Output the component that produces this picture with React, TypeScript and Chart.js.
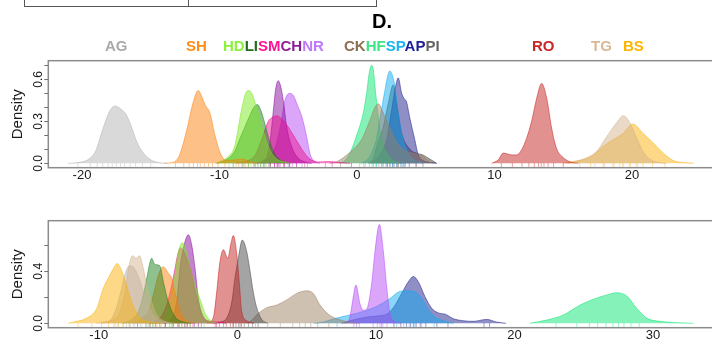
import React, { useEffect, useRef } from "react";
import { Chart, registerables } from "chart.js";
Chart.register(...registerables);

type Pt = [number, number];

// ---------------- Top panel: density curves [x, density] ----------------
const topAG: Pt[] = [[-21,0],[-20.3,0.005],[-19.5,0.03],[-19,0.09],[-18.5,0.24],[-18,0.37],[-17.6,0.41],[-17.2,0.39],[-16.8,0.35],[-16.4,0.26],[-16,0.15],[-15.5,0.07],[-15,0.025],[-14.4,0.005],[-13.8,0]];
const topSH: Pt[] = [[-14,0],[-13.3,0.01],[-12.9,0.06],[-12.4,0.23],[-11.9,0.44],[-11.55,0.52],[-11.3,0.48],[-11.05,0.42],[-10.7,0.36],[-10.3,0.19],[-9.95,0.075],[-9.5,0.02],[-8.8,0.025],[-8.3,0.03],[-7.8,0.01],[-7.2,0]];
const topHD: Pt[] = [[-10.3,0],[-9.8,0.02],[-9.35,0.05],[-8.9,0.12],[-8.4,0.38],[-8.1,0.5],[-7.85,0.52],[-7.6,0.49],[-7.4,0.43],[-6.9,0.26],[-6.45,0.12],[-5.95,0.04],[-5.3,0.01],[-4.8,0]];
const topLI: Pt[] = [[-10.2,0],[-9.6,0.02],[-8.9,0.085],[-8.5,0.18],[-8.15,0.26],[-7.8,0.34],[-7.5,0.4],[-7.25,0.42],[-7.0,0.38],[-6.8,0.32],[-6.45,0.19],[-6.0,0.07],[-5.5,0.02],[-5,0]];
const topSM: Pt[] = [[-8.8,0],[-8.3,0.01],[-7.9,0.02],[-7.4,0.06],[-6.93,0.17],[-6.45,0.3],[-6.1,0.33],[-5.84,0.34],[-5.5,0.32],[-5.11,0.275],[-4.5,0.18],[-3.9,0.085],[-3.42,0.03],[-2.8,0.01],[-2,0.012],[-1.2,0.005],[-0.5,0]];
const topCH: Pt[] = [[-7.3,0],[-6.8,0.02],[-6.55,0.05],[-6.33,0.15],[-6.08,0.38],[-5.9,0.54],[-5.72,0.59],[-5.55,0.55],[-5.36,0.45],[-5.11,0.26],[-4.75,0.12],[-4.3,0.04],[-3.8,0.01],[-3.3,0]];
const topNR: Pt[] = [[-7,0],[-6.5,0.03],[-6.0,0.1],[-5.7,0.2],[-5.48,0.31],[-5.24,0.45],[-4.87,0.5],[-4.6,0.48],[-4.39,0.43],[-4.0,0.33],[-3.66,0.19],[-3.42,0.07],[-3.1,0.015],[-2.7,0]];
const topCK: Pt[] = [[-2,0],[-1.5,0.01],[-1.0,0.04],[-0.27,0.1],[0.34,0.17],[0.95,0.31],[1.3,0.4],[1.55,0.425],[1.91,0.36],[2.4,0.25],[2.9,0.15],[3.5,0.09],[4.2,0.07],[4.8,0.05],[5.3,0.01],[5.6,0]];
const topHF: Pt[] = [[-1.3,0],[-0.87,0.02],[-0.5,0.075],[-0.02,0.2],[0.46,0.36],[0.7,0.5],[0.9,0.65],[1.07,0.7],[1.2,0.66],[1.31,0.55],[1.55,0.33],[1.8,0.17],[2.16,0.075],[2.64,0.02],[3.2,0]];
const topSP: Pt[] = [[0.3,0],[0.8,0.03],[1.07,0.075],[1.43,0.18],[1.67,0.32],[2.04,0.525],[2.25,0.63],[2.4,0.66],[2.6,0.62],[2.76,0.55],[3.0,0.36],[3.25,0.215],[3.6,0.1],[4.1,0.03],[4.8,0]];
const topAP: Pt[] = [[1.0,0],[1.67,0.06],[2.16,0.17],[2.52,0.38],[2.76,0.525],[3.0,0.61],[3.25,0.5],[3.45,0.46],[3.6,0.44],[3.85,0.32],[4.2,0.17],[4.46,0.06],[4.8,0.02],[5.4,0.005],[5.8,0]];
const topPI: Pt[] = [[0.8,0],[1.2,0.04],[1.43,0.12],[1.91,0.26],[2.28,0.43],[2.64,0.56],[2.88,0.43],[3.25,0.215],[3.85,0.1],[4.4,0.07],[4.8,0.06],[5.3,0.03],[5.8,0]];
const topRO: Pt[] = [[9.8,0],[10.28,0.025],[10.64,0.073],[10.9,0.068],[11.25,0.06],[11.6,0.06],[11.98,0.097],[12.34,0.18],[12.7,0.3],[13.07,0.465],[13.43,0.57],[13.8,0.465],[14.16,0.25],[14.5,0.11],[14.9,0.05],[15.5,0.01],[16.1,0]];
const topTG: Pt[] = [[15.3,0],[15.73,0.01],[16.7,0.04],[17.43,0.085],[18.16,0.19],[18.88,0.29],[19.37,0.34],[19.85,0.29],[20.34,0.18],[20.8,0.085],[21.3,0.03],[22,0.005],[22.5,0]];
const topBS: Pt[] = [[15,0],[15.5,0.01],[16.45,0.025],[17.2,0.06],[17.9,0.12],[18.64,0.17],[19.37,0.215],[20.05,0.28],[20.8,0.215],[21.55,0.145],[22.28,0.073],[23.0,0.02],[23.8,0.005],[24.5,0]];

// ---------------- Top panel: rug marks ----------------
const topRugAG = [-20.3,-19.4,-18.9,-18.5,-18.1,-17.8,-17.5,-17.2,-16.9,-16.5,-16.1,-15.6,-15.0];
const topRugSH = [-13.2,-12.6,-12.2,-11.9,-11.6,-11.4,-11.1,-10.8,-10.5,-10.1,-9.6,-8.6,-8.2];
const topRugHD = [-9.3,-8.8,-8.4,-8.1,-7.9,-7.7,-7.4,-7.0,-6.6];
const topRugLI = [-9.0,-8.3,-7.9,-7.5,-7.2,-7.0,-6.7,-6.3];
const topRugSM = [-7.4,-6.8,-6.3,-6.0,-5.7,-5.3,-4.9,-4.4,-3.8,-2.3,-1.8];
const topRugCH = [-6.4,-6.0,-5.8,-5.6,-5.3,-4.9];
const topRugNR = [-5.8,-5.3,-5.0,-4.7,-4.4,-4.0,-3.6];
const topRugCK = [-1.2,-0.4,0.5,1.2,1.6,2.2,3.0,4.3];
const topRugHF = [-0.4,0.2,0.6,0.9,1.1,1.4,1.8];
const topRugSP = [1.4,1.8,2.1,2.4,2.6,2.9,3.3];
const topRugAP = [2.2,2.6,2.9,3.2,3.5,3.8,4.3];
const topRugPI = [1.9,2.4,2.7,3.0,3.4,4.8];
const topRugRO = [10.5,11.3,12.0,12.5,12.9,13.2,13.4,13.6,13.9,14.3,15.0];
const topRugTG = [16.2,17.3,18.0,18.6,19.1,19.4,19.8,20.4];
const topRugBS = [17.0,17.9,18.7,19.3,19.9,20.3,20.8,21.5,22.4];

// ---------------- Bottom panel: density curves ----------------
const botBS: Pt[] = [[-12.2,0],[-11.8,0.01],[-10.87,0.04],[-10.14,0.115],[-9.67,0.27],[-9.3,0.35],[-9.0,0.41],[-8.66,0.46],[-8.45,0.43],[-8.22,0.37],[-7.86,0.24],[-7.5,0.13],[-7.0,0.04],[-6.3,0.01],[-5.5,0]];
const botTG: Pt[] = [[-10.2,0],[-9.67,0.01],[-8.95,0.03],[-8.46,0.09],[-8.1,0.24],[-7.86,0.42],[-7.55,0.52],[-7.3,0.5],[-7.07,0.52],[-6.78,0.42],[-6.54,0.295],[-6.18,0.165],[-5.82,0.065],[-5.34,0.02],[-4.5,0]];
const botAG: Pt[] = [[-9.8,0],[-9.2,0.02],[-8.82,0.09],[-8.46,0.22],[-8.1,0.38],[-7.8,0.44],[-7.62,0.44],[-7.3,0.4],[-7.0,0.32],[-6.54,0.165],[-6.06,0.065],[-5.58,0.02],[-4.8,0]];
const botLI: Pt[] = [[-8.3,0],[-7.62,0.03],[-7.14,0.09],[-6.78,0.22],[-6.49,0.37],[-6.3,0.47],[-6.18,0.5],[-6.0,0.46],[-5.82,0.45],[-5.58,0.44],[-5.34,0.32],[-4.98,0.165],[-4.5,0.05],[-3.9,0.01],[-3.3,0]];
const botSH: Pt[] = [[-7.6,0],[-7.0,0.03],[-6.42,0.09],[-6.06,0.22],[-5.7,0.37],[-5.5,0.42],[-5.34,0.435],[-4.98,0.385],[-4.73,0.346],[-4.5,0.24],[-4.13,0.09],[-3.65,0.02],[-3.1,0]];
const botHD: Pt[] = [[-6,0],[-5.4,0.03],[-5.0,0.1],[-4.6,0.3],[-4.25,0.55],[-3.95,0.62],[-3.7,0.56],[-3.4,0.42],[-3.0,0.28],[-2.6,0.16],[-2.3,0.07],[-1.9,0.02],[-1.4,0]];
const botSM: Pt[] = [[-6.4,0],[-6.0,0.01],[-5.58,0.04],[-5.1,0.14],[-4.73,0.295],[-4.5,0.42],[-4.3,0.53],[-4.1,0.58],[-3.9,0.56],[-3.65,0.5],[-3.29,0.38],[-2.93,0.2],[-2.57,0.07],[-2.1,0.02],[-1.3,0.01],[-0.8,0]];
const botCH: Pt[] = [[-5.4,0],[-4.8,0.03],[-4.4,0.15],[-4.1,0.45],[-3.77,0.63],[-3.53,0.68],[-3.29,0.6],[-3.05,0.42],[-2.81,0.19],[-2.45,0.05],[-2.0,0.01],[-1.6,0]];
const botRO: Pt[] = [[-2.2,0],[-1.85,0.02],[-1.68,0.07],[-1.49,0.24],[-1.25,0.475],[-1.0,0.565],[-0.69,0.5],[-0.45,0.62],[-0.29,0.675],[-0.04,0.53],[0.15,0.3],[0.32,0.09],[0.68,0.02],[1.2,0]];
const botPI: Pt[] = [[-1.6,0],[-1.25,0.01],[-0.77,0.04],[-0.4,0.165],[-0.17,0.35],[0.07,0.5],[0.36,0.64],[0.68,0.55],[0.92,0.4],[1.15,0.24],[1.4,0.12],[1.76,0.03],[2.2,0]];
const botCK: Pt[] = [[0.6,0],[1.0,0.02],[1.4,0.065],[2.12,0.12],[2.84,0.14],[3.56,0.18],[4.29,0.23],[5.0,0.25],[5.48,0.23],[5.97,0.14],[6.57,0.07],[7.17,0.035],[7.65,0.02],[8.3,0.005],[8.8,0]];
const botNR: Pt[] = [[7.7,0],[8.0,0.02],[8.13,0.05],[8.33,0.18],[8.56,0.295],[8.85,0.15],[9.1,0.1],[9.34,0.11],[9.7,0.31],[9.94,0.56],[10.25,0.76],[10.53,0.56],[10.78,0.28],[11.02,0.07],[11.4,0.01],[11.8,0]];
const botSP: Pt[] = [[5.5,0],[6.2,0.01],[7.17,0.04],[8.6,0.077],[10.05,0.13],[11.0,0.19],[11.74,0.245],[12.46,0.25],[13.06,0.225],[13.67,0.13],[14.1,0.064],[14.86,0.02],[15.6,0]];
const botAP: Pt[] = [[7.5,0],[8.5,0.03],[9.5,0.05],[10.4,0.06],[10.78,0.07],[11.26,0.12],[11.86,0.23],[12.34,0.32],[12.7,0.36],[13.06,0.32],[13.54,0.205],[14.03,0.115],[14.5,0.08],[15.0,0.07],[15.6,0.035],[16.3,0.02],[17.0,0.015],[18.0,0.03],[18.7,0.01],[19.4,0]];
const botHF: Pt[] = [[21.1,0],[22.32,0.025],[23.52,0.064],[24.73,0.14],[25.69,0.185],[26.65,0.218],[27.37,0.235],[28.1,0.21],[28.82,0.115],[29.54,0.04],[30.5,0.015],[31.7,0.005],[32.9,0]];

// ---------------- Bottom panel: rug marks ----------------
const botRugBS = [-11.5,-10.5,-9.8,-9.3,-8.9,-8.6,-8.3,-7.8,-7.2];
const botRugTG = [-8.8,-8.2,-7.8,-7.5,-7.2,-6.9,-6.5,-6.0];
const botRugAG = [-8.6,-8.0,-7.7,-7.4,-7.0,-6.4];
const botRugLI = [-7.2,-6.6,-6.3,-6.1,-5.9,-5.6,-5.2,-4.7];
const botRugSH = [-6.3,-5.8,-5.5,-5.2,-4.9,-4.6,-4.2];
const botRugHD = [-4.8,-4.3,-4.0,-3.8,-3.4,-2.9,-2.4];
const botRugSM = [-5.2,-4.6,-4.3,-4.0,-3.7,-3.2,-2.6,-1.5];
const botRugCH = [-4.2,-3.8,-3.6,-3.4,-3.1,-2.8];
const botRugRO = [-1.6,-1.3,-1.0,-0.8,-0.5,-0.3,-0.1,0.2];
const botRugPI = [-0.3,0.1,0.3,0.5,0.8,1.1,1.5];
const botRugCK = [1.3,2.2,3.1,4.0,4.5,4.9,5.3,5.8,6.6];
const botRugNR = [8.4,8.6,9.8,10.1,10.3,10.5,10.8];
const botRugSP = [7.2,8.8,10.4,11.5,12.0,12.4,12.8,13.3,14.2];
const botRugAP = [11.3,11.8,12.2,12.5,12.7,12.9,13.2,13.6,14.4,15.2,17.8,18.2];
const botRugHF = [23.0,24.5,25.4,26.0,26.6,27.1,27.5,27.9,28.4,29.0];

// ---------------- Axes / text ----------------
const topXTicks = [-20, -10, 0, 10, 20];
const topYTicks = [0, 0.1, 0.2, 0.3, 0.4, 0.5, 0.6, 0.7];
const topYLabels = [0, 0.3, 0.6];
const botXTicks = [-10, 0, 10, 20, 30];
const botYTicks = [0, 0.2, 0.4, 0.6];
const botYLabels = [0, 0.4];
const yTitle = "Density";
const panelTitle = "D.";
const labelGroups = [["AG"], ["SH"], ["HD", "LI", "SM", "CH", "NR"], ["CK", "HF", "SP", "AP", "PI"], ["RO"], ["TG"], ["BS"]];

const topCurves: Record<string, Pt[]> = { AG: topAG, SH: topSH, HD: topHD, LI: topLI, SM: topSM, CH: topCH, NR: topNR, CK: topCK, HF: topHF, SP: topSP, AP: topAP, PI: topPI, RO: topRO, TG: topTG, BS: topBS };
const topRugs: Record<string, number[]> = { AG: topRugAG, SH: topRugSH, HD: topRugHD, LI: topRugLI, SM: topRugSM, CH: topRugCH, NR: topRugNR, CK: topRugCK, HF: topRugHF, SP: topRugSP, AP: topRugAP, PI: topRugPI, RO: topRugRO, TG: topRugTG, BS: topRugBS };
const botCurves: Record<string, Pt[]> = { BS: botBS, TG: botTG, AG: botAG, LI: botLI, SH: botSH, HD: botHD, SM: botSM, CH: botCH, RO: botRO, PI: botPI, CK: botCK, NR: botNR, SP: botSP, AP: botAP, HF: botHF };
const botRugs: Record<string, number[]> = { BS: botRugBS, TG: botRugTG, AG: botRugAG, LI: botRugLI, SH: botRugSH, HD: botRugHD, SM: botRugSM, CH: botRugCH, RO: botRugRO, PI: botRugPI, CK: botRugCK, NR: botRugNR, SP: botRugSP, AP: botRugAP, HF: botRugHF };

// ---------------- Styles ----------------
const fillRGB: Record<string, string> = {
  AG: "175,175,175", SH: "250,125,5", HD: "120,232,20", LI: "20,125,20", SM: "235,10,140",
  CH: "130,0,150", NR: "180,70,245", CK: "155,125,95", HF: "0,228,110", SP: "10,170,240",
  AP: "20,20,135", PI: "65,65,65", RO: "195,25,25", TG: "210,175,135", BS: "250,175,5",
};
const labelColor: Record<string, string> = {
  AG: "#aaaaaa", SH: "#ff8c14", HD: "#8cf03c", LI: "#1e6e1e", SM: "#ff1493", CH: "#8c1e96",
  NR: "#be78fa", CK: "#8c6e50", HF: "#3ce682", SP: "#1eb4f0", AP: "#1e1e96", PI: "#646464",
  RO: "#c82828", TG: "#d7b996", BS: "#ffb400",
};
const labelLefts = [105, 186, 223, 344, 532, 591, 623];
const FONT = '"Liberation Sans", Arial, sans-serif';

function buildDatasets(curves: Record<string, Pt[]>, rugs: Record<string, number[]>, rugY: number) {
  const ds: any[] = [];
  Object.keys(curves).forEach((k) => {
    ds.push({
      type: "line",
      data: curves[k].map(([x, y]) => ({ x, y })),
      fill: "origin",
      backgroundColor: `rgba(${fillRGB[k]},0.48)`,
      borderColor: `rgba(${fillRGB[k]},0.5)`,
      borderWidth: 1,
      pointRadius: 0,
      tension: 0.4,
      cubicInterpolationMode: "monotone",
      order: 1,
    });
  });
  Object.keys(rugs).forEach((k) => {
    ds.push({
      type: "scatter",
      data: rugs[k].map((x) => ({ x, y: rugY })),
      showLine: false,
      pointStyle: "line",
      pointRotation: 90,
      pointRadius: 2,
      pointBorderWidth: 1,
      pointBorderColor: `rgba(${fillRGB[k]},0.4)`,
      pointBackgroundColor: `rgba(${fillRGB[k]},0.4)`,
      order: 0,
    });
  });
  return ds;
}

function axesPlugin(xTicks: number[], yTicks: number[], yLabels: number[]) {
  return {
    id: "rAxes",
    afterDraw(chart: any) {
      const { ctx, chartArea: a, scales } = chart;
      const x = scales.x, y = scales.y;
      ctx.save();
      ctx.strokeStyle = "#8c8c8c";
      ctx.lineWidth = 1.5;
      ctx.strokeRect(a.left, a.top, a.right - a.left, a.bottom - a.top);
      ctx.strokeStyle = "#707070";
      ctx.lineWidth = 1;
      yTicks.forEach((v) => {
        const py = Math.round(y.getPixelForValue(v)) + 0.5;
        ctx.beginPath();
        ctx.moveTo(a.left - 4, py);
        ctx.lineTo(a.left, py);
        ctx.stroke();
      });
      ctx.fillStyle = "#1a1a1a";
      ctx.textAlign = "center";
      ctx.textBaseline = "middle";
      ctx.font = `12px ${FONT}`;
      yLabels.forEach((v) => {
        ctx.save();
        ctx.translate(a.left - 10, y.getPixelForValue(v));
        ctx.rotate(-Math.PI / 2);
        ctx.fillText(v.toFixed(1), 0, 0);
        ctx.restore();
      });
      ctx.font = `15px ${FONT}`;
      ctx.save();
      ctx.translate(17.5, (a.top + a.bottom) / 2);
      ctx.rotate(-Math.PI / 2);
      ctx.fillText(yTitle, 0, 0);
      ctx.restore();
      ctx.font = `13px ${FONT}`;
      xTicks.forEach((v) => {
        ctx.fillText(String(v), x.getPixelForValue(v), a.bottom + 8);
      });
      ctx.restore();
    },
  };
}

function makeChart(canvas: HTMLCanvasElement, curves: Record<string, Pt[]>, rugs: Record<string, number[]>,
  xr: [number, number], yr: [number, number], pad: any, xTicks: number[], yTicks: number[], yLabels: number[], rugY: number) {
  return new Chart(canvas, {
    type: "line",
    data: { datasets: buildDatasets(curves, rugs, rugY) },
    options: {
      animation: false,
      responsive: false,
      maintainAspectRatio: false,
      devicePixelRatio: 1,
      layout: { padding: pad },
      plugins: { legend: { display: false }, tooltip: { enabled: false } },
      scales: {
        x: { type: "linear", min: xr[0], max: xr[1], display: false },
        y: { type: "linear", min: yr[0], max: yr[1], display: false },
      },
    },
    plugins: [axesPlugin(xTicks, yTicks, yLabels)],
  } as any);
}

export default function App() {
  const topRef = useRef<HTMLCanvasElement>(null);
  const botRef = useRef<HTMLCanvasElement>(null);
  useEffect(() => {
    const c1 = makeChart(topRef.current!, topCurves, topRugs, [-22.45, 27.13], [-0.0314, 0.733],
      { left: 48.3, right: 30, top: 60.7, bottom: 22.3 }, topXTicks, topYTicks, topYLabels, -0.012);
    const c2 = makeChart(botRef.current!, botCurves, botRugs, [-13.64, 35.55], [-0.0338, 0.789],
      { left: 48.3, right: 30, top: 30.7, bottom: 11.3 }, botXTicks, botYTicks, botYLabels, -0.013);
    return () => { c1.destroy(); c2.destroy(); };
  }, []);
  return (
    <div style={{ position: "absolute", left: 0, top: 0, width: 712, height: 339, overflow: "hidden", background: "#fff", fontFamily: FONT }}>
      <canvas ref={topRef} width={760} height={190} style={{ position: "absolute", left: 0, top: 0, width: 760, height: 190 }} />
      <canvas ref={botRef} width={760} height={149} style={{ position: "absolute", left: 0, top: 190, width: 760, height: 149 }} />
      <div style={{ position: "absolute", left: 24, top: -2, width: 351, height: 8, border: "1px solid #555", borderTop: "none" }} />
      <div style={{ position: "absolute", left: 188, top: -2, width: 0, height: 9, borderLeft: "1px solid #555" }} />
      <div style={{ position: "absolute", left: 372, top: 11, fontSize: 20, fontWeight: "bold", lineHeight: "20px", color: "#000" }}>{panelTitle}</div>
      {labelGroups.map((g, i) => (
        <div key={i} style={{ position: "absolute", left: labelLefts[i], top: 38, fontSize: 15, fontWeight: "bold", lineHeight: "15px", whiteSpace: "nowrap" }}>
          {g.map((k) => (<span key={k} style={{ color: labelColor[k] }}>{k}</span>))}
        </div>
      ))}
    </div>
  );
}
